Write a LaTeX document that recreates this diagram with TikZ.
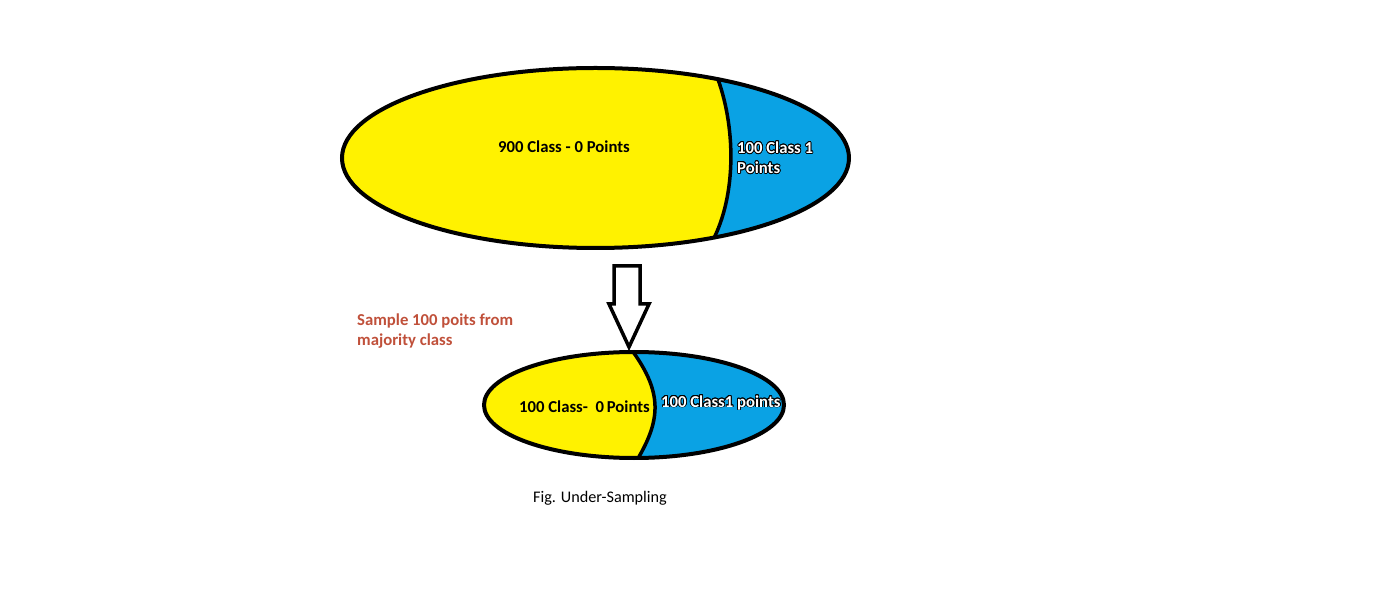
\documentclass[tikz,border=0pt]{standalone}
\usepackage{fontspec}
\setmainfont{Carlito}
\usepackage{contour}
\contourlength{0.8pt}
\definecolor{ylw}{HTML}{FFF200}
\definecolor{blu}{HTML}{0AA2E4}
\definecolor{rust}{HTML}{C0503A}
\tikzset{
  outline/.style={draw=black,line width=4pt},
  lbl/.style={font=\fontsize{16.7}{20}\selectfont\bfseries,inner sep=0pt},
  wlbl/.style={lbl,align=left,text=white},
}
\newcommand{\wtxt}[1]{\contour{black}{#1}}
\begin{document}
\begin{tikzpicture}[x=1pt,y=-1pt]
\useasboundingbox[fill=white] (0,0) rectangle (1400,593);
% big ellipse
\begin{scope}
  \clip (595.5,158) ellipse [x radius=253.5, y radius=90];
  \fill[ylw] (330,60) rectangle (860,260);
  \fill[blu] (716,74) .. controls (736,125) and (737,195) .. (712,242) -- (860,250) -- (860,60) -- cycle;
  \draw[line width=3.5pt] (716,74) .. controls (736,125) and (737,195) .. (712,242);
\end{scope}
\draw[outline] (595.5,158) ellipse [x radius=253.5, y radius=90];
% small ellipse
\begin{scope}
  \clip (634,405) ellipse [x radius=150, y radius=53];
  \fill[ylw] (480,340) rectangle (790,470);
  \fill[blu] (628,345) .. controls (664,392) and (662,420) .. (634,465) -- (790,465) -- (790,345) -- cycle;
  \draw[line width=3.5pt] (628,345) .. controls (664,392) and (662,420) .. (634,465);
\end{scope}
\draw[outline] (634,405) ellipse [x radius=150, y radius=53];
% arrow
\draw[fill=white,line width=3.5pt,line join=miter] (614,266) -- (640,266) -- (640,304) -- (649,304) -- (629,347) -- (609,304) -- (614,304) -- cycle;
% labels
\node[lbl,anchor=west] (t900) at (498,147) {900 Class - 0 Points};
\node[wlbl,anchor=west] (t100a) at (737,158) {\wtxt{100 Class 1}\\\wtxt{Points}};
\node[lbl,anchor=west] (t100b) at (519,407) {100 Class-\ \ 0\,Points};
\node[wlbl,anchor=west] (t100c) at (661,403) {\wtxt{100 Class1 points}};
\node[lbl,text=rust,align=left,anchor=west] (samp) at (357,331) {Sample 100 poits from\\majority class};
\node[font=\fontsize{16.2}{20}\selectfont,inner sep=0pt,anchor=west] (cap) at (533,498) {Fig. Under-Sampling};
\end{tikzpicture}
\end{document}
